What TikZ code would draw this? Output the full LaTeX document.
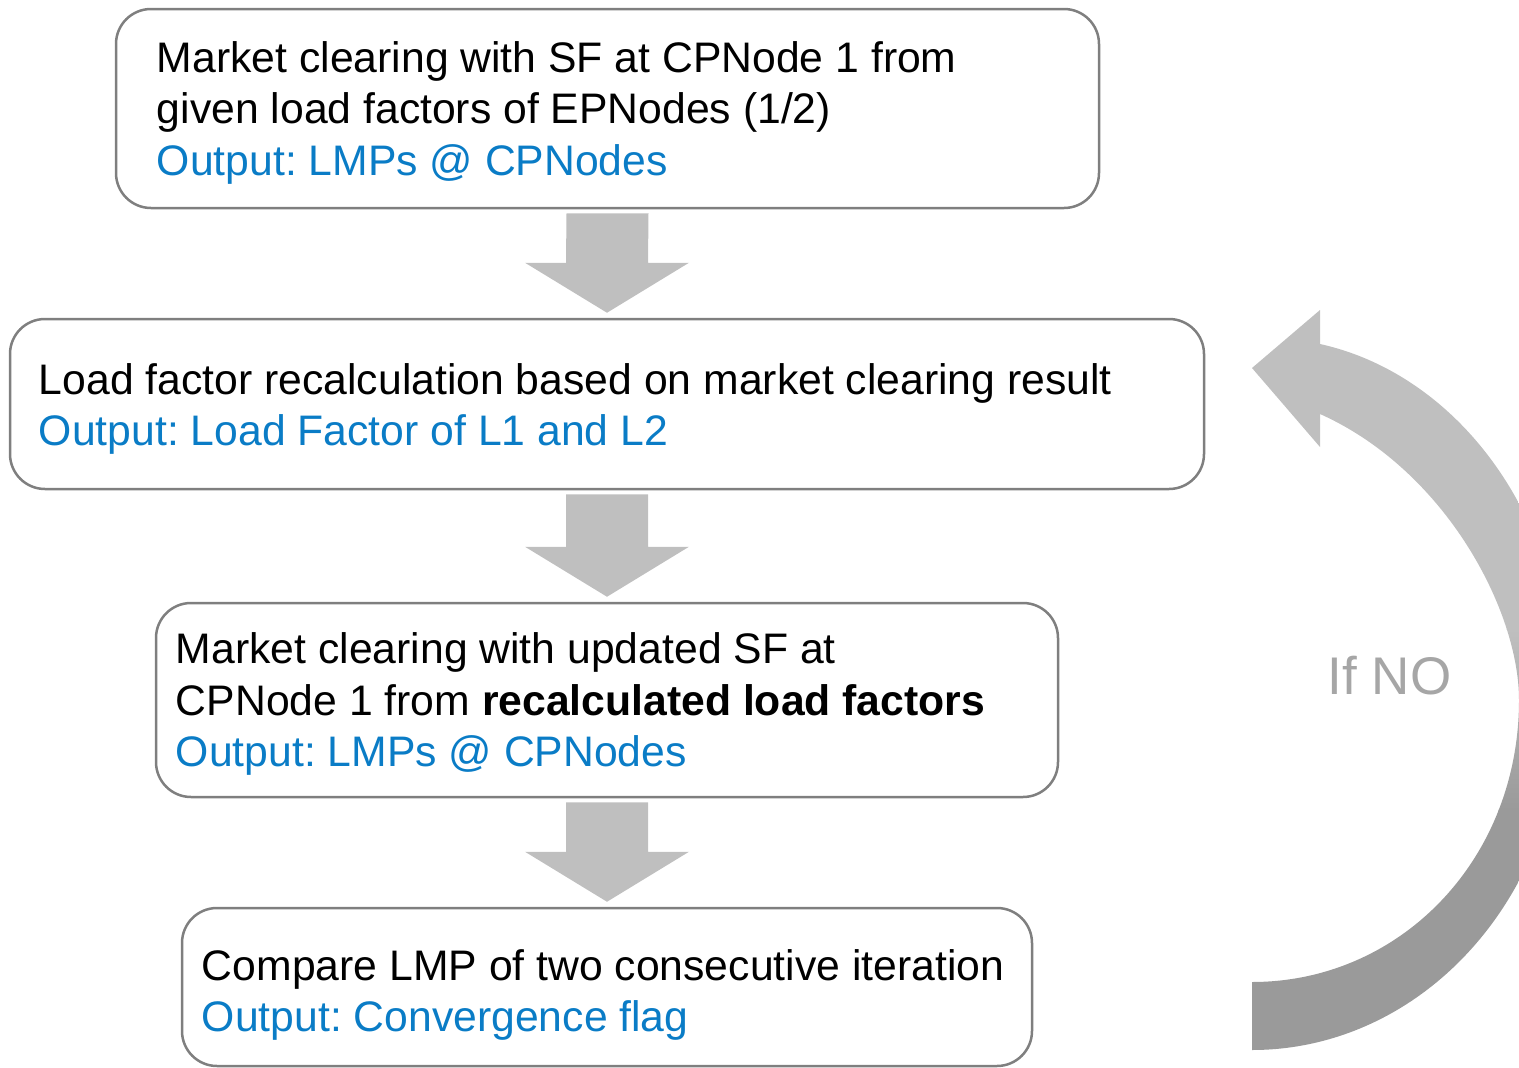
\documentclass[tikz,border=0pt]{standalone}
\usepackage{fontspec}
\setmainfont{Liberation Sans}
\usetikzlibrary{calc}
\frenchspacing
\definecolor{boxborder}{HTML}{7F7F7F}
\definecolor{outblue}{HTML}{0A7CC6}
\definecolor{arrowgray}{HTML}{BFBFBF}
\definecolor{loopdark}{HTML}{9A9A9A}
\definecolor{notegray}{HTML}{A6A6A6}
\newcommand\downblockarrow[2]{%
  \fill[arrowgray] ($(#1.south)+(-41,4)$) -- ($(#1.south)+(41,4)$)
    -- ($(#2.north)+(41,-55)$) -- ($(#2.north)+(82,-55)$)
    -- ($(#2.north)+(0,-5)$) -- ($(#2.north)+(-82,-55)$)
    -- ($(#2.north)+(-41,-55)$) -- cycle;}
\begin{document}
\begin{tikzpicture}[x=1pt,y=-1pt,
  stepbox/.style={draw=boxborder, line width=2.5pt, rounded corners=35pt, inner sep=0pt},
  txt/.style={font=\fontsize{42.7}{51.5}\selectfont, align=left, inner sep=0pt, anchor=west}]
\useasboundingbox (0,0) rectangle (1519,1068);

% boxes
\node[stepbox, minimum width=983pt, minimum height=199pt] (b1) at (607.5,108.5) {};
\node[stepbox, minimum width=1194pt, minimum height=170pt] (b2) at (607,404) {};
\node[stepbox, minimum width=902pt, minimum height=194pt] (b3) at (607,700) {};
\node[stepbox, minimum width=850pt, minimum height=158pt] (b4) at (607,987) {};

% texts
\node[txt] (t1) at ($(b1.west)+(42,4)$) {Market clearing with SF at CPNode 1 from\\given load factors of EPNodes (1/2)\\\textcolor{outblue}{Output: LMPs @ CPNodes}};
\node[txt] (t2) at ($(b2.west)+(30,5)$) {Load factor recalculation based on market clearing result\\\textcolor{outblue}{Output: Load Factor of L1 and L2}};
\node[txt] (t3) at ($(b3.west)+(21,4)$) {Market clearing with updated SF at\\CPNode 1 from \textbf{recalculated load factors}\\\textcolor{outblue}{Output: LMPs @ CPNodes}};
\node[txt] (t4) at ($(b4.west)+(21,8)$) {Compare LMP of two consecutive iteration\\\textcolor{outblue}{Output: Convergence flag}};

% block arrows
\downblockarrow{b1}{b2}
\downblockarrow{b2}{b3}
\downblockarrow{b3}{b4}

% loop-back curved arrow
\begin{scope}
\clip (1252,1050) -- (1252,982) .. controls (1400,982) and (1519,860) .. (1519,700)
  .. controls (1519,610) and (1445,470) .. (1320,414) -- (1320,447) -- (1252,368)
  -- (1320,310) -- (1320,344) .. controls (1460,375) and (1565,520) .. (1565,690)
  .. controls (1565,900) and (1420,1050) .. (1252,1050) -- cycle;
\fill[arrowgray] (1240,300) rectangle (1600,630);
\shade[top color=arrowgray, bottom color=loopdark] (1240,629) rectangle (1600,810);
\fill[loopdark] (1240,809) rectangle (1600,1060);
\end{scope}

\node[font=\fontsize{53}{60}\selectfont, text=notegray, inner sep=0pt] (ifno) at (1389.5,676) {If NO};
\end{tikzpicture}
\end{document}
